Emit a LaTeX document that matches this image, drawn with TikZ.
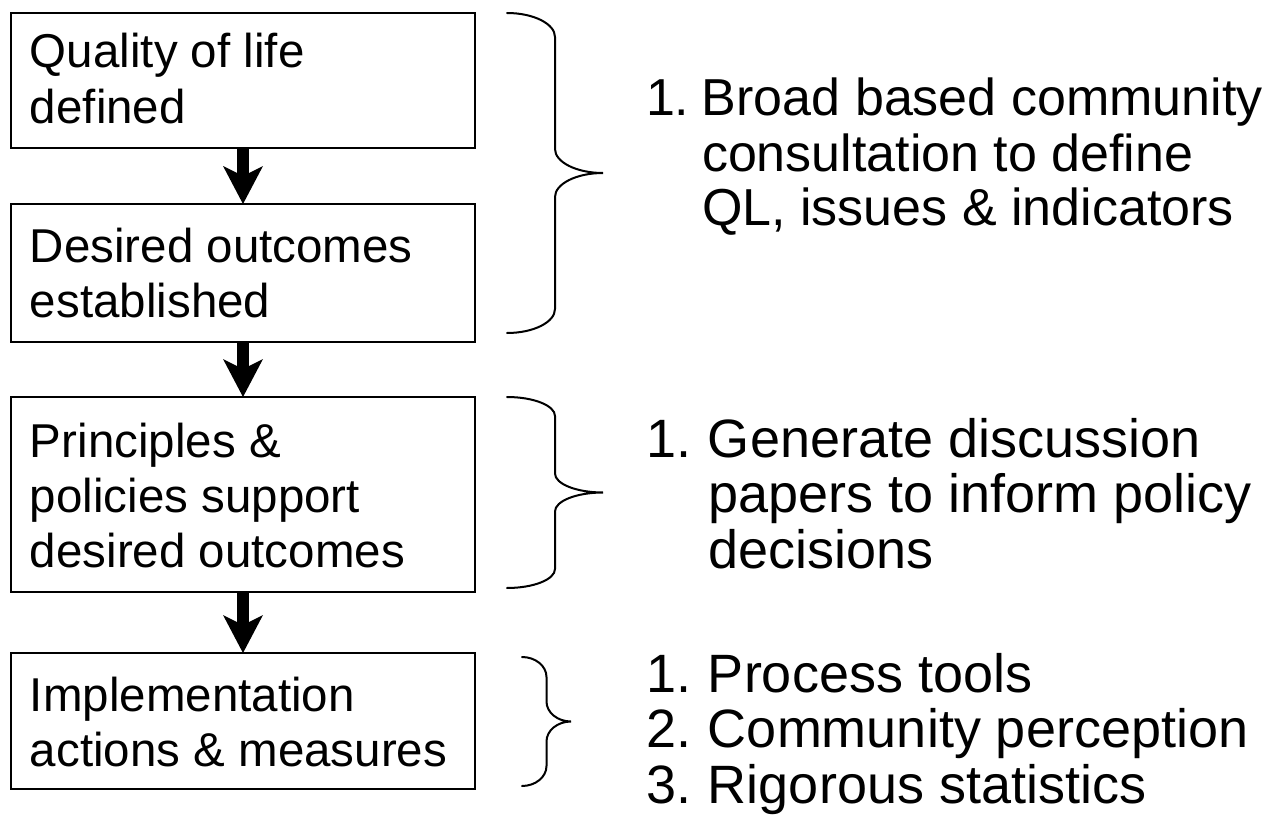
\documentclass[tikz,border=0pt]{standalone}
\usepackage{fontspec}
\setmainfont{Liberation Sans}
\usetikzlibrary{arrows.meta}
\tikzset{
  box/.style={draw=black, line width=1.8pt, fill=white, minimum width=464pt, inner sep=0pt, outer sep=0pt},
  txt/.style={inner sep=0pt, outer sep=0pt, anchor=base west, font=\fontsize{47.5pt}{55pt}\selectfont},
  rtxt/.style={inner sep=0pt, outer sep=0pt, anchor=base west, font=\fontsize{#1}{55pt}\selectfont},
  flow/.style={line width=12pt, -{Stealth[length=38pt, width=40pt, inset=10pt, line width=0pt]}},
  brace/.style={line width=2pt, line cap=round}
}
\begin{document}
\begin{tikzpicture}[x=1pt, y=-1pt]
\useasboundingbox (0,0) rectangle (1278,816);
\fill[white] (0,0) rectangle (1278,816);

% boxes
\node[box, minimum height=135pt] (b1) at (243,80.5) {};
\node[box, minimum height=138pt] (b2) at (243,273) {};
\node[box, minimum height=195pt] (b3) at (243,494.5) {};
\node[box, minimum height=136pt] (b4) at (243,721) {};

% box texts
\node[txt] (t1) at (30,68) {\begin{tabular}[t]{@{}l@{}}Quality of life\\defined\end{tabular}};
\node[txt] (t2) at (30,262) {\begin{tabular}[t]{@{}l@{}}Desired outcomes\\established\end{tabular}};
\node[txt] (t3) at (30,457) {\begin{tabular}[t]{@{}l@{}}Principles \&\\policies support\\desired outcomes\end{tabular}};
\node[txt] (t4) at (30,711) {\begin{tabular}[t]{@{}l@{}}Implementation\\actions \& measures\end{tabular}};

% arrows
\draw[flow] (b1.south) -- (b2.north);
\draw[flow] (b2.south) -- (b3.north);
\draw[flow] (b3.south) -- (b4.north);

% braces
\draw[brace] (507,13) .. controls (533.5,13) and (555,23.8) .. (555,37) -- (555,149)
  .. controls (555,162.2) and (576.5,173) .. (603,173)
  .. controls (576.5,173) and (555,183.8) .. (555,197) -- (555,309)
  .. controls (555,322.2) and (533.5,333) .. (507,333);
\draw[brace] (507,397) .. controls (533.5,397) and (555,405.5) .. (555,416) -- (555,473.5)
  .. controls (555,484) and (576.5,492.5) .. (603,492.5)
  .. controls (576.5,492.5) and (555,501) .. (555,511.5) -- (555,569)
  .. controls (555,579.5) and (533.5,588) .. (507,588);
\draw[brace] (522,657) .. controls (535.5,657) and (546.5,666) .. (546.5,677) -- (546.5,701.5)
  .. controls (546.5,712.5) and (557.5,721.5) .. (571,721.5)
  .. controls (557.5,721.5) and (546.5,730.5) .. (546.5,741.5) -- (546.5,766)
  .. controls (546.5,777) and (535.5,786) .. (522,786);

% right lists
\node[rtxt=52pt] (r1) at (646,116) {\begin{tabular}[t]{@{}p{56pt}@{}l@{}}1.&Broad based community\\&consultation to define\\&QL, issues \& indicators\end{tabular}};
\node[rtxt=54pt] (r2) at (646,457) {\begin{tabular}[t]{@{}p{62pt}@{}l@{}}1.&Generate discussion\\&papers to inform policy\\&decisions\end{tabular}};
\node[rtxt=54pt] (r3) at (646,692) {\begin{tabular}[t]{@{}p{62pt}@{}l@{}}1.&Process tools\\2.&Community perception\\3.&Rigorous statistics\end{tabular}};
\end{tikzpicture}
\end{document}
